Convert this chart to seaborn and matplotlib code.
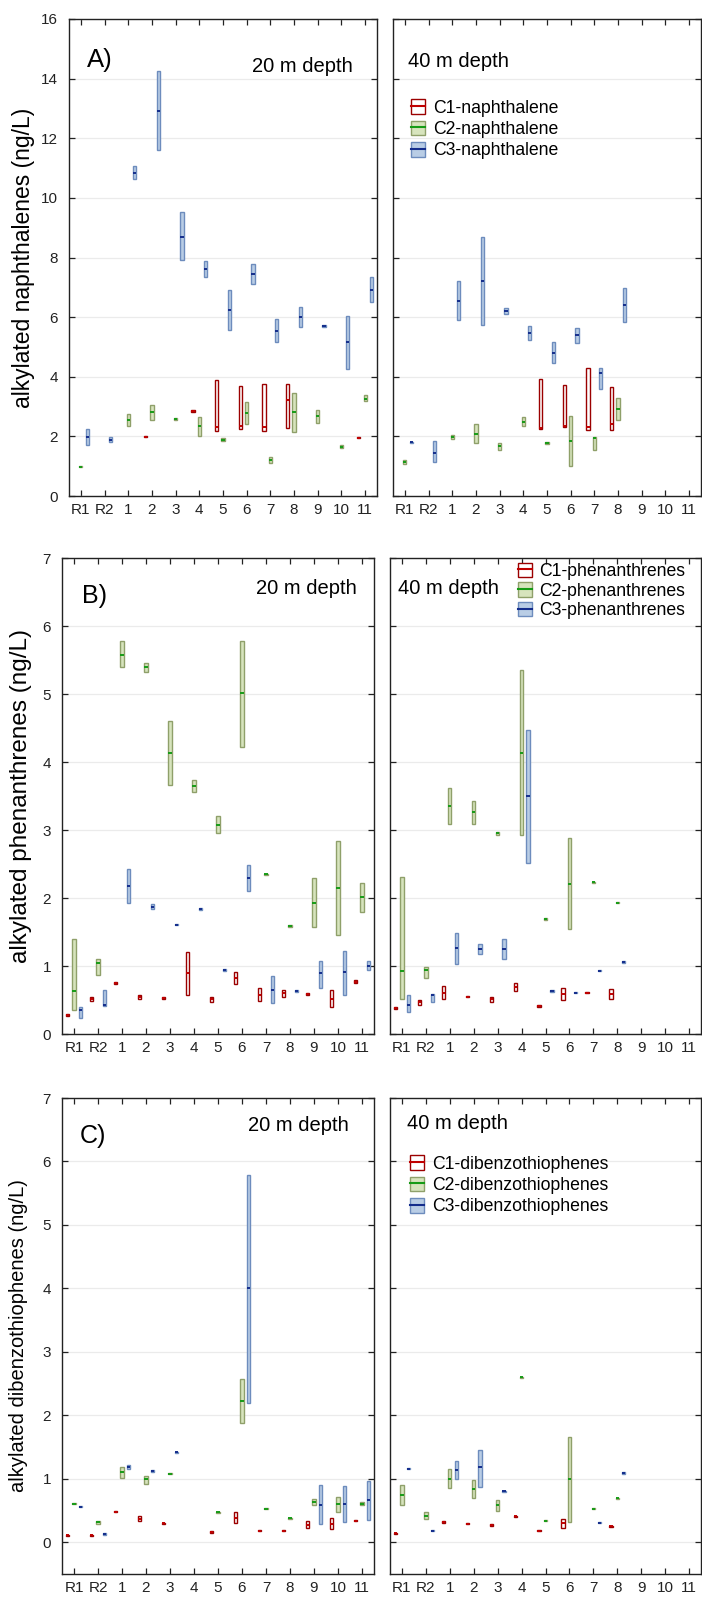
import numpy as np
import pandas as pd
import matplotlib
matplotlib.use('Agg')
import matplotlib.pyplot as plt
import seaborn as sns
from matplotlib.patches import Patch
from matplotlib.lines import Line2D

plt.rcParams['font.family'] = ['Liberation Sans', 'DejaVu Sans']

# ---------- data: (min, median, max) per station, None = not measured ----------
stations = ['R1', 'R2', '1', '2', '3', '4', '5', '6', '7', '8', '9', '10', '11']
compounds = ['C1', 'C2', 'C3']

# A) naphthalenes, 20 m
naph20_c1 = [None, None, None, (1.97, 1.99, 2.01), None, (2.83, 2.85, 2.87), (2.18, 2.33, 3.89),
             (2.24, 2.36, 3.69), (2.18, 2.33, 3.75), (2.27, 3.21, 3.75), None, None, (1.94, 1.96, 1.98)]
naph20_c2 = [(0.97, 0.98, 1.0), None, (2.35, 2.54, 2.74), (2.55, 2.81, 3.05), (2.55, 2.58, 2.61),
             (2.02, 2.35, 2.64), (1.83, 1.88, 1.93), (2.40, 2.79, 3.14), (1.11, 1.20, 1.30),
             (2.16, 2.82, 3.45), (2.46, 2.68, 2.89), (1.62, 1.66, 1.70), (3.17, 3.26, 3.38)]
naph20_c3 = [(1.71, 1.97, 2.24), (1.80, 1.87, 1.99), (10.64, 10.84, 11.07), (11.6, 12.93, 14.26),
             (7.92, 8.70, 9.52), (7.33, 7.61, 7.87), (5.57, 6.24, 6.90), (7.11, 7.45, 7.77),
             (5.16, 5.55, 5.93), (5.68, 6.02, 6.34), (5.66, 5.70, 5.74), (4.26, 5.16, 6.04), (6.51, 6.91, 7.33)]

# A) naphthalenes, 40 m
naph40_c1 = [None, None, None, None, None, None, (2.24, 2.28, 3.94), (2.30, 2.34, 3.74),
             (2.21, 2.33, 4.30), (2.23, 2.43, 3.66), None, None, None]
naph40_c2 = [(1.06, 1.13, 1.20), None, (1.90, 1.98, 2.06), (1.79, 2.09, 2.40), (1.53, 1.68, 1.79),
             (2.34, 2.49, 2.64), (1.76, 1.78, 1.80), (1.00, 1.85, 2.69), (1.53, 1.93, 1.99),
             (2.56, 2.93, 3.30), None, None, None]
naph40_c3 = [(1.78, 1.80, 1.82), (1.14, 1.44, 1.83), (5.92, 6.55, 7.20), (5.73, 7.21, 8.68),
             (6.10, 6.19, 6.29), (5.23, 5.46, 5.69), (4.45, 4.80, 5.15), (5.12, 5.39, 5.64),
             (3.58, 4.11, 4.28), (5.85, 6.41, 6.97), None, None, None]

# B) phenanthrenes, 20 m
phen20_c1 = [(0.27, 0.28, 0.29), (0.48, 0.51, 0.55), (0.73, 0.75, 0.77), (0.51, 0.55, 0.58),
             (0.52, 0.53, 0.54), (0.57, 0.89, 1.21), (0.47, 0.51, 0.55), (0.74, 0.82, 0.91),
             (0.49, 0.58, 0.67), (0.54, 0.60, 0.65), (0.57, 0.59, 0.61), (0.40, 0.52, 0.64), (0.75, 0.77, 0.79)]
phen20_c2 = [(0.35, 0.63, 1.40), (0.87, 1.04, 1.11), (5.39, 5.58, 5.78), (5.32, 5.39, 5.45),
             (3.66, 4.13, 4.60), (3.56, 3.65, 3.74), (2.96, 3.08, 3.20), (4.22, 5.01, 5.78),
             (2.34, 2.35, 2.36), (1.58, 1.59, 1.60), (1.57, 1.93, 2.30), (1.45, 2.15, 2.84), (1.79, 2.01, 2.22)]
phen20_c3 = [(0.23, 0.35, 0.39), (0.41, 0.43, 0.64), (1.93, 2.17, 2.42), (1.84, 1.87, 1.91),
             (1.60, 1.61, 1.62), (1.83, 1.84, 1.85), (0.93, 0.94, 0.95), (2.11, 2.30, 2.48),
             (0.45, 0.65, 0.85), (0.62, 0.63, 0.64), (0.68, 0.89, 1.08), (0.58, 0.91, 1.22), (0.94, 1.00, 1.08)]

# B) phenanthrenes, 40 m
phen40_c1 = [(0.37, 0.38, 0.39), (0.43, 0.47, 0.50), (0.51, 0.61, 0.70), (0.54, 0.55, 0.56),
             (0.47, 0.51, 0.55), (0.63, 0.69, 0.75), (0.40, 0.41, 0.42), (0.50, 0.59, 0.68),
             (0.60, 0.61, 0.62), (0.51, 0.59, 0.66), None, None, None]
phen40_c2 = [(0.51, 0.92, 2.31), (0.83, 0.94, 0.98), (3.09, 3.36, 3.62), (3.09, 3.26, 3.42),
             (2.93, 2.95, 2.97), (2.92, 4.13, 5.35), (1.68, 1.69, 1.70), (1.55, 2.21, 2.88),
             (2.22, 2.23, 2.24), (1.92, 1.93, 1.94), None, None, None]
phen40_c3 = [(0.32, 0.42, 0.57), (0.47, 0.58, 0.59), (1.03, 1.26, 1.48), (1.17, 1.25, 1.33),
             (1.11, 1.25, 1.39), (2.52, 3.50, 4.47), (0.62, 0.63, 0.64), (0.60, 0.61, 0.62),
             (0.92, 0.93, 0.94), (1.05, 1.06, 1.07), None, None, None]

# C) dibenzothiophenes, 20 m
dbt20_c1 = [(0.10, 0.11, 0.12), (0.10, 0.11, 0.12), (0.47, 0.48, 0.50), (0.34, 0.37, 0.41),
            (0.29, 0.30, 0.31), None, (0.15, 0.16, 0.17), (0.31, 0.39, 0.48), (0.17, 0.18, 0.19),
            (0.17, 0.18, 0.19), (0.22, 0.27, 0.33), (0.21, 0.29, 0.38), (0.33, 0.34, 0.35)]
dbt20_c2 = [(0.60, 0.61, 0.62), (0.29, 0.32, 0.33), (1.02, 1.11, 1.19), (0.92, 0.99, 1.05),
            (1.07, 1.08, 1.09), None, (0.46, 0.47, 0.48), (1.88, 2.23, 2.57), (0.52, 0.53, 0.54),
            (0.37, 0.38, 0.39), (0.58, 0.63, 0.68), (0.48, 0.61, 0.72), (0.58, 0.61, 0.64)]
dbt20_c3 = [(0.55, 0.56, 0.57), (0.12, 0.13, 0.15), (1.16, 1.19, 1.22), (1.10, 1.12, 1.14),
            (1.41, 1.42, 1.43), None, None, (2.19, 4.0, 5.78), None, None,
            (0.28, 0.59, 0.91), (0.32, 0.61, 0.89), (0.35, 0.67, 0.97)]

# C) dibenzothiophenes, 40 m
dbt40_c1 = [(0.13, 0.14, 0.15), None, (0.31, 0.32, 0.33), (0.28, 0.29, 0.30), (0.26, 0.27, 0.28),
            (0.40, 0.41, 0.42), (0.17, 0.18, 0.19), (0.22, 0.30, 0.37), None, (0.24, 0.25, 0.26),
            None, None, None]
dbt40_c2 = [(0.58, 0.74, 0.90), (0.36, 0.41, 0.48), (0.85, 1.00, 1.15), (0.69, 0.84, 0.98),
            (0.50, 0.58, 0.66), (2.59, 2.60, 2.61), (0.33, 0.34, 0.35), (0.32, 0.99, 1.66),
            (0.52, 0.53, 0.54), (0.68, 0.69, 0.70), None, None, None]
dbt40_c3 = [(1.15, 1.16, 1.17), (0.17, 0.18, 0.19), (1.00, 1.14, 1.28), (0.87, 1.18, 1.46),
            (0.79, 0.80, 0.81), None, None, None, (0.30, 0.31, 0.32), (1.08, 1.09, 1.10),
            None, None, None]

# ---------- styles ----------
fills = {'C1': '#ffffff', 'C2': '#d7e4bd', 'C3': '#b9cde5'}
edges = {'C1': '#9b0000', 'C2': '#8fa06a', 'C3': '#6d8cbd'}
meds = {'C1': '#c00000', 'C2': '#169b16', 'C3': '#142d8c'}


def to_long(series):
    # each (min, median, max) -> 5 values so the box runs min..max
    rows = []
    for comp, vals in series.items():
        for st, v in zip(stations, vals):
            if v is None:
                continue
            lo, md, hi = v
            for y in (lo, lo, md, hi, hi):
                rows.append((st, comp, y))
    return pd.DataFrame(rows, columns=['station', 'compound', 'value'])


def draw(ax, series, ylim, yticks):
    df = to_long(series)
    for comp in compounds:
        sub = df[df['compound'] == comp]
        sns.boxplot(data=sub, x='station', y='value', hue='compound',
                    order=stations, hue_order=compounds, palette=fills,
                    saturation=1, dodge=True, width=0.8, gap=0.48,
                    showcaps=False, showfliers=False,
                    linecolor=edges[comp], linewidth=1.0,
                    medianprops=dict(color=meds[comp], linewidth=1.4),
                    legend=False, ax=ax)
    ax.set_xlim(-0.5, 12.5)
    ax.set_ylim(*ylim)
    ax.set_yticks(yticks)
    ax.set_xlabel('')
    ax.set_ylabel('')
    ax.yaxis.grid(True, color='#ebebeb', lw=0.9)
    ax.xaxis.grid(False)
    ax.set_axisbelow(True)
    ax.tick_params(axis='both', direction='in', top=True, right=True,
                   length=4, width=0.9, labelsize=11, colors='#222222')
    ax.tick_params(axis='x', pad=5)
    ax.tick_params(axis='y', pad=8)
    for s in ax.spines.values():
        s.set_color('#222222')
        s.set_linewidth(1.0)


def add_legend(ax, names, anchor, spacing):
    handles = [(Patch(facecolor=fills[c], edgecolor=edges[c], lw=1.0),
                Line2D([0], [0], color=meds[c], lw=1.5)) for c in compounds]
    ax.legend(handles, names, loc='upper left', bbox_to_anchor=anchor,
              frameon=False, fontsize=12.7, handlelength=0.8, handleheight=0.9,
              handletextpad=0.45, labelspacing=spacing, borderpad=0, borderaxespad=0)


fig = plt.figure(figsize=(7.02, 15.98), dpi=100)


def rect(l, t, r, b):
    return [l / 702, 1 - b / 1598, (r - l) / 702, (b - t) / 1598]


axA1 = fig.add_axes(rect(69, 19, 377, 496))
axA2 = fig.add_axes(rect(393, 19, 701, 496))
axB1 = fig.add_axes(rect(62, 558, 374, 1034))
axB2 = fig.add_axes(rect(390, 558, 701, 1034))
axC1 = fig.add_axes(rect(62, 1098, 374, 1574))
axC2 = fig.add_axes(rect(390, 1098, 701, 1574))

draw(axA1, {'C1': naph20_c1, 'C2': naph20_c2, 'C3': naph20_c3}, (0, 16), range(0, 17, 2))
draw(axA2, {'C1': naph40_c1, 'C2': naph40_c2, 'C3': naph40_c3}, (0, 16), range(0, 17, 2))
draw(axB1, {'C1': phen20_c1, 'C2': phen20_c2, 'C3': phen20_c3}, (0, 7), range(0, 8))
draw(axB2, {'C1': phen40_c1, 'C2': phen40_c2, 'C3': phen40_c3}, (0, 7), range(0, 8))
draw(axC1, {'C1': dbt20_c1, 'C2': dbt20_c2, 'C3': dbt20_c3}, (-0.5, 7), range(0, 8))
draw(axC2, {'C1': dbt40_c1, 'C2': dbt40_c2, 'C3': dbt40_c3}, (-0.5, 7), range(0, 8))

for ax in (axA2, axB2, axC2):
    ax.tick_params(labelleft=False)

# y labels
axA1.set_ylabel('alkylated naphthalenes (ng/L)', fontsize=16.5)
axA1.yaxis.set_label_coords(-0.110, 0.5)
axB1.set_ylabel('alkylated phenanthrenes (ng/L)', fontsize=17.5)
axB1.yaxis.set_label_coords(-0.096, 0.5)
axC1.set_ylabel('alkylated dibenzothiophenes (ng/L)', fontsize=14.5)
axC1.yaxis.set_label_coords(-0.109, 0.5)

# panel letters and depth labels
axA1.text(0.058, 0.914, 'A)', transform=axA1.transAxes, fontsize=18.5, va='center')
axA1.text(0.922, 0.90, '20 m depth', transform=axA1.transAxes, fontsize=14.5, ha='right', va='center')
axA2.text(0.049, 0.91, '40 m depth', transform=axA2.transAxes, fontsize=14.5, va='center')

axB1.text(0.064, 0.92, 'B)', transform=axB1.transAxes, fontsize=18, va='center')
axB1.text(0.946, 0.935, '20 m depth', transform=axB1.transAxes, fontsize=14.5, ha='right', va='center')
axB2.text(0.026, 0.935, '40 m depth', transform=axB2.transAxes, fontsize=14.5, va='center')

axC1.text(0.058, 0.92, 'C)', transform=axC1.transAxes, fontsize=18, va='center')
axC1.text(0.92, 0.943, '20 m depth', transform=axC1.transAxes, fontsize=14.5, ha='right', va='center')
axC2.text(0.055, 0.947, '40 m depth', transform=axC2.transAxes, fontsize=14.5, va='center')

add_legend(axA2, ['C1-naphthalene', 'C2-naphthalene', 'C3-naphthalene'], (0.058, 0.832), 0.23)
add_legend(axB2, ['C1-phenanthrenes', 'C2-phenanthrenes', 'C3-phenanthrenes'], (0.41, 0.99), 0.12)
add_legend(axC2, ['C1-dibenzothiophenes', 'C2-dibenzothiophenes', 'C3-dibenzothiophenes'],
           (0.064, 0.88), 0.23)

fig.savefig('out.png', dpi=100)
